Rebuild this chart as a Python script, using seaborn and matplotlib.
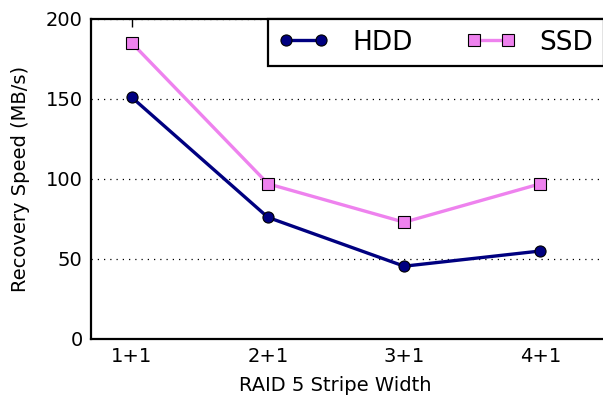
import matplotlib
matplotlib.use("Agg")
import matplotlib.pyplot as plt
import pandas as pd
import seaborn as sns

# Recovery speed for each RAID 5 stripe width
stripe_widths = ["1+1", "2+1", "3+1", "4+1"]
hdd_speed = [151, 76, 45.5, 55]
ssd_speed = [185, 97, 73, 97]
y_ticks = [0, 50, 100, 150, 200]

sns.set_style("white")
plt.rcParams["font.family"] = ["DejaVu Sans"]
plt.rcParams["text.color"] = "black"
plt.rcParams["axes.labelcolor"] = "black"

df = pd.DataFrame({
    "pos": list(range(len(stripe_widths))) * 2,
    "speed": hdd_speed + ssd_speed,
    "device": ["HDD"] * len(hdd_speed) + ["SSD"] * len(ssd_speed),
})

fig = plt.figure(figsize=(6.03, 4.04), dpi=100)
ax = fig.add_axes([91 / 603, 65 / 404, 531 / 603, 320 / 404])

sns.lineplot(
    data=df, x="pos", y="speed", hue="device", style="device",
    palette={"HDD": "#000080", "SSD": "#EE82EE"},
    markers={"HDD": "o", "SSD": "s"}, dashes=False,
    linewidth=2.4, markersize=8, markeredgecolor="black",
    markeredgewidth=0.8, ax=ax, legend=False,
)

ax.set_xlim(-0.3, 3.6)
ax.set_ylim(0, 200)
ax.set_xticks(range(len(stripe_widths)))
ax.set_xticklabels(stripe_widths)
ax.set_yticks(y_ticks)
ax.set_xlabel("RAID 5 Stripe Width", fontsize=14, labelpad=7)
ax.xaxis.label.set_x(0.46)
ax.set_ylabel("Recovery Speed (MB/s)", fontsize=14, labelpad=11)
ax.tick_params(axis="both", labelsize=14, direction="in", length=6,
               width=1, top=True, right=True, colors="black", pad=6)
ax.yaxis.grid(True, linestyle=(0, (1, 4)), color="black", linewidth=0.9)
ax.set_axisbelow(True)
for s in ax.spines.values():
    s.set_color("black")
    s.set_linewidth(1.6)
ax.spines["right"].set_visible(False)

handles = [
    plt.Line2D([], [], color="#000080", marker="o", markersize=8,
               markeredgecolor="black", markeredgewidth=0.8, linewidth=2.4),
    plt.Line2D([], [], color="#EE82EE", marker="s", markersize=8,
               markeredgecolor="black", markeredgewidth=0.8, linewidth=2.4),
]
leg = ax.legend(handles, ["HDD", "SSD"], ncol=2, loc="upper left",
                bbox_to_anchor=((268 - 91) / 531, 1.0), borderaxespad=0,
                fontsize=19, frameon=True, fancybox=False, numpoints=2,
                handlelength=1.9, columnspacing=2.0, handletextpad=0.9,
                borderpad=0.4)
leg.get_frame().set_edgecolor("black")
leg.get_frame().set_linewidth(1.6)
leg.get_frame().set_alpha(1)

fig.savefig("out.png", dpi=100)
